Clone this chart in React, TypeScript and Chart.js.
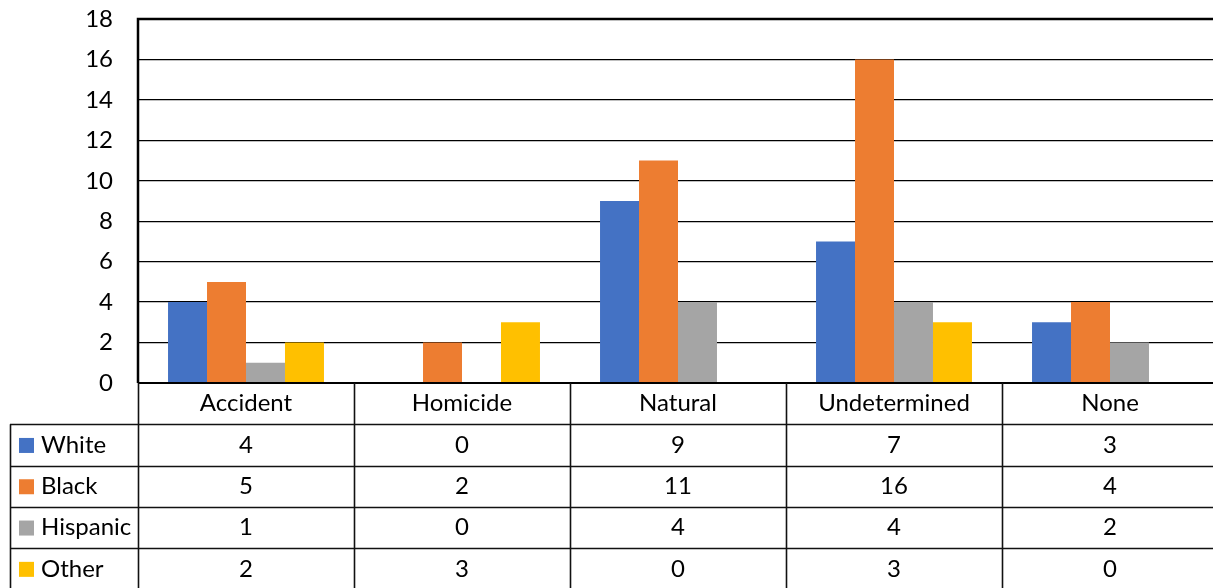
import React, { useEffect, useRef } from "react";
import { Chart, registerables } from "chart.js";

Chart.register(...registerables);

const categories = ["Accident", "Homicide", "Natural", "Undetermined", "None"];
const seriesNames = ["White", "Black", "Hispanic", "Other"];
const whiteValues = [4, 0, 9, 7, 3];
const blackValues = [5, 2, 11, 16, 4];
const hispanicValues = [1, 0, 4, 4, 2];
const otherValues = [2, 3, 0, 3, 0];
const seriesColors = ["#4472C4", "#ED7D31", "#A5A5A5", "#FFC000"];
const yTicks = [0, 2, 4, 6, 8, 10, 12, 14, 16, 18];

const FONT = "Lato, 'Open Sans', sans-serif";
const FONT_SIZE = 24;

const tablePlugin = {
  id: "dataTable",
  afterDraw(chart: any) {
    const ctx = chart.ctx;
    const area = chart.chartArea;
    const xs = chart.scales.x;
    const n = categories.length;
    const colW = (area.right - area.left) / n;
    const rowH = 41.3;
    const top = area.bottom;
    const legendLeft = 10;
    const lastRowBottom = top + rowH * (seriesNames.length + 1);
    ctx.save();
    // plot border
    ctx.strokeStyle = "#000";
    ctx.lineWidth = 2.5;
    ctx.beginPath();
    ctx.moveTo(area.left, area.bottom);
    ctx.lineTo(area.left, area.top);
    ctx.lineTo(area.right, area.top);
    ctx.stroke();
    ctx.lineWidth = 2;
    ctx.beginPath();
    ctx.moveTo(area.left, area.bottom);
    ctx.lineTo(area.right, area.bottom);
    ctx.stroke();

    // table lines
    ctx.lineWidth = 1.6;
    ctx.strokeStyle = "#111";
    ctx.beginPath();
    for (let r = 1; r <= seriesNames.length + 1; r++) {
      const y = Math.round(top + rowH * r) + 0.5;
      ctx.moveTo(legendLeft, y);
      ctx.lineTo(area.right, y);
    }
    for (let c = 0; c < n; c++) {
      const x = Math.round(area.left + colW * c) + 0.5;
      ctx.moveTo(x, top);
      ctx.lineTo(x, lastRowBottom);
    }
    ctx.moveTo(legendLeft + 0.5, top + rowH);
    ctx.lineTo(legendLeft + 0.5, lastRowBottom);
    ctx.stroke();

    // header
    ctx.fillStyle = "#000";
    ctx.font = `${FONT_SIZE}px ${FONT}`;
    ctx.textAlign = "center";
    ctx.textBaseline = "middle";
    categories.forEach((c, i) => {
      const cx = xs.getPixelForValue(i);
      ctx.fillText(c, cx, top + rowH / 2);
    });
    // rows
    chart.data.datasets.forEach((ds: any, r: number) => {
      const cy = top + rowH * (r + 1) + rowH / 2;
      ctx.fillStyle = ds.backgroundColor;
      ctx.fillRect(19, cy - 7, 15, 15);
      ctx.fillStyle = "#000";
      ctx.textAlign = "left";
      ctx.fillText(ds.label, 41, cy);
      ctx.textAlign = "center";
      ds.data.forEach((v: number, i: number) => {
        ctx.fillText(String(v), xs.getPixelForValue(i), cy);
      });
    });
    ctx.restore();
  },
};

export default function App() {
  const ref = useRef<HTMLCanvasElement>(null);
  useEffect(() => {
    const seriesData = [whiteValues, blackValues, hispanicValues, otherValues];
    const chart = new Chart(ref.current!, {
      type: "bar",
      data: {
        labels: categories,
        datasets: seriesNames.map((name, i) => ({
          label: name,
          data: seriesData[i],
          backgroundColor: seriesColors[i],
          borderWidth: 0,
          categoryPercentage: 0.722,
          barPercentage: 1.0,
        })),
      },
      options: {
        responsive: false,
        animation: false,
        devicePixelRatio: 1,
        layout: { padding: { left: 0, top: 19, right: 22, bottom: 205 } },
        plugins: {
          legend: { display: false },
          title: { display: false },
          tooltip: { enabled: false },
        },
        scales: {
          x: {
            display: false,
          },
          y: {
            min: 0,
            max: 18,
            afterBuildTicks: (s: any) => {
              s.ticks = yTicks.map((v) => ({ value: v }));
            },
            afterFit: (s: any) => {
              s.width = 138;
              s.paddingTop = 0;
              s.paddingBottom = 0;
            },
            border: { display: false },
            grid: { color: "#000", lineWidth: 1.3, drawTicks: false },
            ticks: {
              color: "#000",
              padding: 25,
              font: { family: FONT, size: FONT_SIZE },
            },
          },
        },
      },
      plugins: [tablePlugin],
    });
    return () => chart.destroy();
  }, []);
  return (
    <div
      style={{
        position: "absolute",
        left: 0,
        top: 0,
        width: 1213,
        height: 588,
        overflow: "hidden",
        background: "#fff",
      }}
    >
      <canvas ref={ref} width={1240} height={588} style={{ display: "block" }} />
    </div>
  );
}
